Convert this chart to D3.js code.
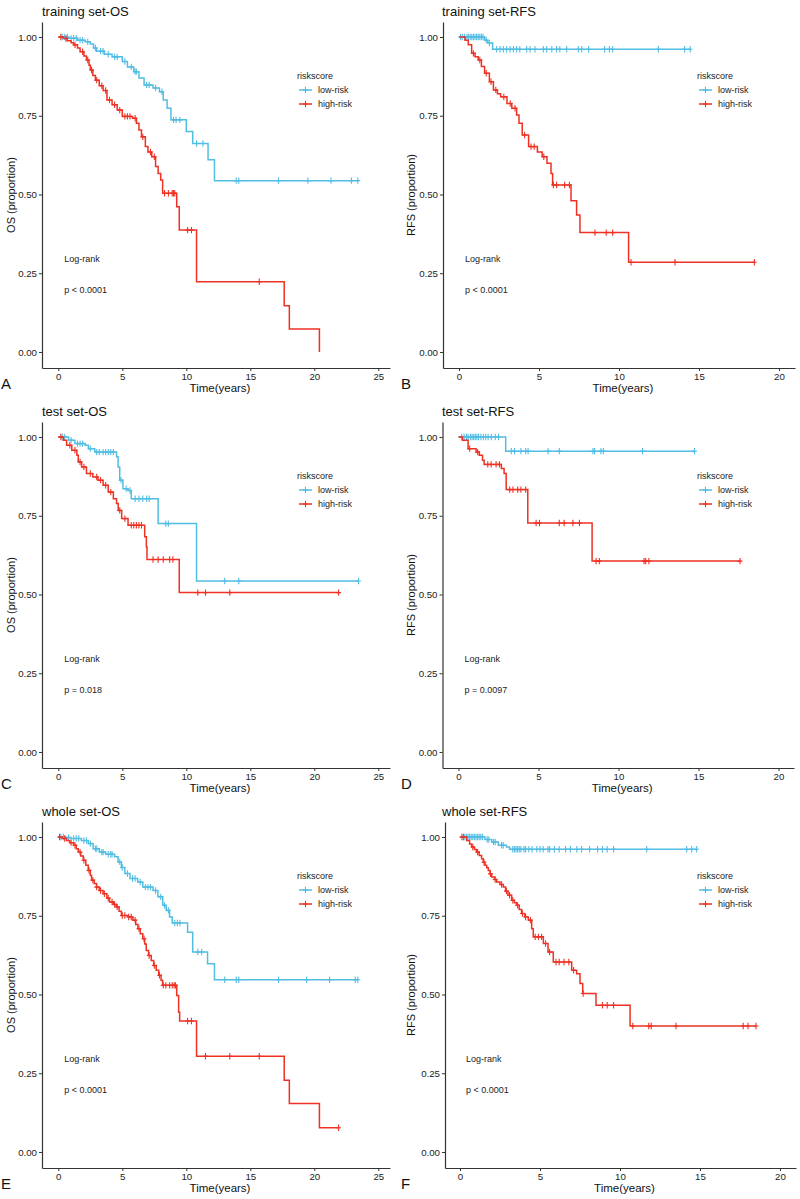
<!DOCTYPE html>
<html>
<head>
<meta charset="utf-8">
<script src="https://cdn.jsdelivr.net/npm/d3@7"></script>
<style>
  body { margin: 0; background: #fff; }
  text { font-family: "Liberation Sans", Arial, sans-serif; }
</style>
</head>
<body>
<svg id="chart" width="800" height="1199"></svg>
<script>
// ---- data: event times (years), survival after each event, censor times ----
var osTicks = [0, 5, 10, 15, 20, 25];
var rfsTicks = [0, 5, 10, 15, 20];
var yTicks = [0, 0.25, 0.5, 0.75, 1];
var groupNames = ["low-risk", "high-risk"];

// A: training set-OS
var trainOsLowTime = [0.8, 1.5, 2.1, 2.5, 2.75, 3.0, 3.6, 4.2, 5.0, 5.4, 5.9, 6.3, 6.7, 7.4, 7.9, 8.2, 8.5, 8.8, 10.0, 10.5, 11.7, 12.2];
var trainOsLowSurv = [0.996, 0.99, 0.985, 0.978, 0.965, 0.955, 0.945, 0.937, 0.922, 0.905, 0.89, 0.87, 0.848, 0.838, 0.826, 0.80, 0.774, 0.737, 0.70, 0.662, 0.61, 0.544];
var trainOsLowCens = [0.3, 0.5, 0.7, 1.0, 1.2, 1.4, 1.7, 1.9, 2.3, 2.9, 3.3, 3.5, 3.9, 4.4, 4.6, 5.2, 5.7, 6.0, 6.1, 6.9, 7.1, 7.6, 8.1, 9.0, 9.2, 9.5, 10.8, 11.3, 13.9, 14.1, 17.2, 19.5, 21.3, 22.9, 23.4];
var trainOsHighTime = [0.4, 0.7, 1.0, 1.2, 1.5, 1.7, 2.0, 2.2, 2.4, 2.5, 2.7, 2.9, 3.2, 3.5, 3.8, 4.2, 4.6, 5.0, 5.8, 6.1, 6.3, 6.5, 6.8, 7.0, 7.3, 7.6, 7.8, 8.0, 8.15, 9.25, 9.45, 10.8, 17.65, 18.05, 20.4];
var trainOsHighSurv = [0.995, 0.988, 0.982, 0.975, 0.965, 0.953, 0.94, 0.927, 0.91, 0.895, 0.878, 0.863, 0.845, 0.83, 0.80, 0.785, 0.768, 0.748, 0.742, 0.726, 0.705, 0.683, 0.652, 0.635, 0.62, 0.589, 0.567, 0.546, 0.504, 0.461, 0.387, 0.223, 0.147, 0.073, 0];
var trainOsHighCens = [0.2, 0.6, 1.3, 1.9, 2.3, 2.6, 3.0, 3.4, 3.7, 4.0, 4.4, 4.8, 5.2, 5.4, 5.6, 6.0, 6.6, 7.2, 7.5, 8.3, 8.6, 8.9, 9.0, 9.1, 10.1, 10.4, 15.7];

// B: training set-RFS
var trainRfsLowTime = [1.6, 1.8, 2.1];
var trainRfsLowSurv = [0.99, 0.981, 0.961];
var trainRfsLowCens = [0.1, 0.2, 0.35, 0.5, 0.6, 0.7, 0.8, 0.9, 1.0, 1.1, 1.2, 1.3, 1.4, 1.5, 1.7, 1.9, 2.35, 2.56, 2.77, 2.98, 3.19, 3.4, 3.6, 3.8, 4.23, 4.44, 4.75, 5.27, 5.48, 5.8, 6.1, 6.3, 6.73, 7.46, 7.67, 8.1, 9.1, 9.4, 9.6, 12.46, 14.1, 14.45];
var trainRfsHighTime = [0.38, 0.58, 0.79, 1.0, 1.2, 1.4, 1.6, 1.9, 2.15, 2.4, 2.6, 3.0, 3.3, 3.6, 3.75, 3.95, 4.35, 4.9, 5.2, 5.5, 5.75, 5.85, 7.0, 7.35, 7.56, 10.6];
var trainRfsHighSurv = [0.99, 0.975, 0.948, 0.937, 0.927, 0.906, 0.885, 0.858, 0.832, 0.82, 0.81, 0.789, 0.774, 0.752, 0.726, 0.689, 0.652, 0.635, 0.62, 0.599, 0.567, 0.53, 0.48, 0.435, 0.379, 0.285];
var trainRfsHighCens = [0.9, 1.3, 1.7, 2.0, 2.3, 2.8, 3.2, 3.5, 4.1, 4.5, 4.7, 5.3, 5.9, 6.1, 6.6, 6.9, 8.5, 9.2, 9.6, 10.75, 13.5, 18.46];

// C: test set-OS
var testOsLowTime = [0.8, 1.3, 2.1, 2.35, 2.85, 4.55, 4.67, 4.8, 5.05, 5.45, 5.7, 7.8, 10.8];
var testOsLowSurv = [0.99, 0.979, 0.974, 0.963, 0.952, 0.937, 0.905, 0.863, 0.836, 0.83, 0.804, 0.725, 0.543];
var testOsLowCens = [0.3, 0.5, 1.0, 1.5, 1.7, 1.9, 2.5, 3.0, 3.2, 3.5, 3.7, 3.9, 4.1, 4.3, 4.9, 5.3, 5.6, 6.0, 6.3, 6.6, 6.9, 7.1, 8.4, 8.6, 13.0, 14.1, 23.46];
var testOsHighTime = [0.4, 0.65, 1.05, 1.45, 1.56, 1.82, 2.2, 2.7, 3.1, 3.5, 3.9, 4.3, 4.55, 4.68, 4.95, 5.45, 6.75, 6.88, 6.93, 9.45];
var testOsHighSurv = [0.99, 0.974, 0.958, 0.942, 0.921, 0.905, 0.884, 0.873, 0.863, 0.847, 0.825, 0.804, 0.789, 0.767, 0.741, 0.72, 0.683, 0.651, 0.611, 0.506];
var testOsHighCens = [0.2, 0.9, 1.3, 1.7, 2.0, 2.5, 3.0, 3.3, 3.7, 4.1, 4.8, 5.2, 5.7, 5.9, 6.1, 6.3, 6.5, 7.4, 7.8, 8.2, 8.7, 8.95, 10.9, 11.5, 13.4, 21.9];

// D: test set-RFS
var testRfsLowTime = [2.95];
var testRfsLowSurv = [0.955];
var testRfsLowCens = [0.2, 0.35, 0.5, 0.6, 0.75, 0.85, 0.95, 1.05, 1.15, 1.25, 1.4, 1.55, 1.7, 1.85, 2.05, 2.3, 2.5, 3.3, 3.5, 3.9, 4.2, 4.35, 5.6, 6.3, 8.4, 8.5, 8.9, 9.05, 11.5, 14.75];
var testRfsHighTime = [0.25, 0.6, 1.1, 1.3, 1.5, 1.6, 2.68, 2.85, 2.98, 4.33, 8.35];
var testRfsHighSurv = [0.99, 0.963, 0.952, 0.942, 0.926, 0.913, 0.9, 0.884, 0.833, 0.727, 0.606];
var testRfsHighCens = [0.7, 1.2, 1.83, 2.04, 2.35, 2.56, 3.2, 3.4, 3.7, 3.9, 4.2, 4.85, 5.06, 6.3, 6.6, 7.15, 7.56, 8.6, 8.8, 11.6, 11.7, 11.9, 17.6];

// E: whole set-OS
var wholeOsLowTime = [0.6, 1.0, 1.8, 2.34, 2.72, 3.2, 3.7, 4.4, 4.67, 4.93, 5.2, 5.6, 6.2, 6.6, 7.4, 7.78, 8.16, 8.43, 8.69, 8.9, 10.1, 10.5, 11.66, 12.2];
var wholeOsLowSurv = [0.998, 0.995, 0.989, 0.979, 0.963, 0.952, 0.945, 0.937, 0.921, 0.903, 0.884, 0.868, 0.857, 0.841, 0.83, 0.81, 0.783, 0.767, 0.746, 0.727, 0.698, 0.635, 0.598, 0.547];
var wholeOsLowCens = [0.2, 0.4, 0.8, 1.2, 1.4, 1.6, 2.0, 2.2, 2.5, 2.9, 3.0, 3.4, 3.5, 3.9, 4.1, 4.2, 4.8, 5.0, 5.4, 5.8, 6.0, 6.4, 6.8, 7.0, 7.2, 7.6, 8.0, 8.3, 8.6, 9.1, 9.3, 9.5, 10.9, 11.2, 13.0, 13.9, 14.1, 17.2, 19.4, 21.2, 23.2, 23.4];
var wholeOsHighTime = [0.3, 0.65, 0.9, 1.2, 1.4, 1.56, 1.75, 1.95, 2.15, 2.34, 2.5, 2.6, 2.8, 2.98, 3.2, 3.5, 3.8, 4.0, 4.3, 4.54, 4.75, 4.93, 5.44, 5.83, 6.05, 6.22, 6.4, 6.6, 6.75, 6.87, 7.05, 7.26, 7.45, 7.65, 7.85, 8.03, 8.15, 9.25, 9.4, 9.48, 10.8, 17.65, 18.05, 20.4];
var wholeOsHighSurv = [0.995, 0.989, 0.982, 0.974, 0.963, 0.952, 0.94, 0.926, 0.91, 0.894, 0.878, 0.863, 0.852, 0.841, 0.83, 0.82, 0.806, 0.794, 0.786, 0.778, 0.764, 0.751, 0.746, 0.736, 0.722, 0.709, 0.693, 0.677, 0.66, 0.64, 0.624, 0.608, 0.592, 0.577, 0.561, 0.545, 0.529, 0.497, 0.444, 0.416, 0.304, 0.228, 0.154, 0.077];
var wholeOsHighCens = [0.1, 0.5, 1.0, 1.3, 1.7, 2.0, 2.4, 2.7, 3.0, 3.3, 3.6, 3.9, 4.2, 4.4, 4.6, 5.0, 5.2, 5.5, 5.7, 6.0, 6.3, 6.7, 7.1, 7.5, 7.9, 8.2, 8.4, 8.7, 8.9, 9.05, 9.15, 10.1, 10.4, 11.5, 13.4, 15.7, 21.9];

// F: whole set-RFS
var wholeRfsLowTime = [1.56, 1.98, 2.4, 2.9, 3.1];
var wholeRfsLowSurv = [0.992, 0.984, 0.974, 0.968, 0.961];
var wholeRfsLowCens = [0.1, 0.2, 0.3, 0.4, 0.5, 0.6, 0.7, 0.8, 0.9, 1.0, 1.1, 1.2, 1.3, 1.4, 1.7, 1.8, 2.1, 2.2, 2.6, 2.7, 3.3, 3.4, 3.5, 3.6, 3.7, 3.8, 4.0, 4.1, 4.3, 4.5, 4.8, 5.0, 5.2, 5.5, 5.6, 5.9, 6.2, 6.6, 6.9, 7.3, 7.6, 8.1, 8.6, 8.9, 9.2, 9.6, 11.67, 14.17, 14.48, 14.79];
var wholeRfsHighTime = [0.42, 0.6, 0.73, 0.9, 1.04, 1.2, 1.35, 1.45, 1.56, 1.67, 1.77, 1.88, 1.98, 2.15, 2.29, 2.5, 2.71, 2.85, 3.0, 3.23, 3.4, 3.54, 3.7, 3.85, 4.05, 4.27, 4.48, 4.58, 5.21, 5.5, 5.83, 6.98, 7.29, 7.5, 7.67, 8.5, 10.63];
var wholeRfsHighSurv = [0.989, 0.978, 0.968, 0.96, 0.952, 0.941, 0.931, 0.92, 0.91, 0.902, 0.894, 0.883, 0.873, 0.865, 0.857, 0.849, 0.841, 0.828, 0.815, 0.799, 0.791, 0.783, 0.77, 0.757, 0.746, 0.736, 0.709, 0.683, 0.662, 0.635, 0.603, 0.577, 0.566, 0.535, 0.503, 0.466, 0.40];
var wholeRfsHighCens = [0.2, 0.8, 1.1, 1.5, 1.9, 2.2, 2.6, 2.9, 3.1, 3.3, 3.6, 3.9, 4.1, 4.4, 4.7, 4.9, 5.1, 5.35, 5.6, 6.0, 6.2, 6.5, 6.8, 7.1, 7.7, 8.9, 9.2, 9.6, 10.8, 11.8, 11.95, 13.5, 17.7, 18.0, 18.5];

var titles = ["training set-OS", "training set-RFS", "test set-OS", "test set-RFS", "whole set-OS", "whole set-RFS"];
var pValues = ["p < 0.0001", "p < 0.0001", "p = 0.018", "p = 0.0097", "p < 0.0001", "p < 0.0001"];
var letters = ["A", "B", "C", "D", "E", "F"];

var lowColor = "#52BDE3";
var highColor = "#EE3124";
var axisColor = "#333";

function curve(time, surv, cens) {
  return { time: time, surv: surv, cens: cens };
}

var panels = [
  { low: curve(trainOsLowTime, trainOsLowSurv, trainOsLowCens), high: curve(trainOsHighTime, trainOsHighSurv, trainOsHighCens), ticks: osTicks, ylab: "OS (proportion)", ox: 0, oy: 0, axL: 42, zero: 58.3, ppy: 12.8, axR: 390 },
  { low: curve(trainRfsLowTime, trainRfsLowSurv, trainRfsLowCens), high: curve(trainRfsHighTime, trainRfsHighSurv, trainRfsHighCens), ticks: rfsTicks, ylab: "RFS (proportion)", ox: 400, oy: 0, axL: 43, zero: 59, ppy: 16, axR: 395 },
  { low: curve(testOsLowTime, testOsLowSurv, testOsLowCens), high: curve(testOsHighTime, testOsHighSurv, testOsHighCens), ticks: osTicks, ylab: "OS (proportion)", ox: 0, oy: 400, axL: 42, zero: 58.3, ppy: 12.8, axR: 390 },
  { low: curve(testRfsLowTime, testRfsLowSurv, testRfsLowCens), high: curve(testRfsHighTime, testRfsHighSurv, testRfsHighCens), ticks: rfsTicks, ylab: "RFS (proportion)", ox: 400, oy: 400, axL: 42.5, zero: 58.5, ppy: 16, axR: 394 },
  { low: curve(wholeOsLowTime, wholeOsLowSurv, wholeOsLowCens), high: curve(wholeOsHighTime, wholeOsHighSurv, wholeOsHighCens), ticks: osTicks, ylab: "OS (proportion)", ox: 0, oy: 800, axL: 42, zero: 58.3, ppy: 12.8, axR: 390 },
  { low: curve(wholeRfsLowTime, wholeRfsLowSurv, wholeRfsLowCens), high: curve(wholeRfsHighTime, wholeRfsHighSurv, wholeRfsHighCens), ticks: rfsTicks, ylab: "RFS (proportion)", ox: 400, oy: 800, axL: 45, zero: 60, ppy: 16, axR: 396 }
];

var svg = d3.select("#chart");

function survAt(c, t) {
  var s = 1;
  for (var i = 0; i < c.time.length; i++) {
    if (c.time[i] <= t) s = c.surv[i];
  }
  return s;
}

function plusPath(cx, cy, h, w) {
  return "M" + (cx - w) + "," + cy + "H" + (cx + w) + "M" + cx + "," + (cy - h) + "V" + (cy + h);
}

panels.forEach(function (p, idx) {
  var g = svg.append("g").attr("transform", "translate(" + p.ox + "," + p.oy + ")");

  var x = d3.scaleLinear()
    .domain([(p.axL - p.zero) / p.ppy, (p.axR - p.zero) / p.ppy])
    .range([p.axL, p.axR]);
  var y = d3.scaleLinear().domain([-0.0508, 1.0476]).range([368, 22]);

  // axes
  var xAxis = g.append("g")
    .attr("transform", "translate(0,368)")
    .call(d3.axisBottom(x).tickValues(p.ticks).tickSize(3).tickPadding(2).tickSizeOuter(0));
  var yAxis = g.append("g")
    .attr("transform", "translate(" + p.axL + ",0)")
    .call(d3.axisLeft(y).tickValues(yTicks).tickFormat(d3.format(".2f")).tickSize(3).tickPadding(2).tickSizeOuter(0));
  [xAxis, yAxis].forEach(function (a) {
    a.select(".domain").attr("stroke", axisColor).attr("stroke-width", 1.2);
    a.selectAll(".tick line").attr("stroke", axisColor).attr("stroke-width", 1);
    a.selectAll(".tick text")
      .attr("fill", "#222")
      .attr("font-size", "9.7px")
      .attr("font-family", "Liberation Sans, Arial, sans-serif");
  });

  // curves
  var line = d3.line()
    .x(function (d) { return x(d[0]); })
    .y(function (d) { return y(d[1]); })
    .curve(d3.curveStepAfter);

  [["low", lowColor], ["high", highColor]].forEach(function (k) {
    var c = p[k[0]];
    var pts = [[0, 1]];
    c.time.forEach(function (t, i) { pts.push([t, c.surv[i]]); });
    var tEnd = Math.max(d3.max(c.time), d3.max(c.cens));
    pts.push([tEnd, c.surv[c.surv.length - 1]]);
    g.append("path")
      .attr("d", line(pts))
      .attr("fill", "none")
      .attr("stroke", k[1])
      .attr("stroke-width", 1.5);
    g.append("g")
      .selectAll("path")
      .data(c.cens)
      .enter()
      .append("path")
      .attr("d", function (t) { return plusPath(x(t), y(survAt(c, t)), 3.2, 2.4); })
      .attr("stroke", k[1])
      .attr("stroke-width", 1.1)
      .attr("fill", "none");
  });

  // title, axis titles, panel letter
  g.append("text")
    .attr("x", 42)
    .attr("y", 15.5)
    .attr("font-size", "13px")
    .attr("fill", "#111")
    .text(titles[idx]);

  g.append("text")
    .attr("x", (p.axL + p.axR) / 2 + 4)
    .attr("y", 392)
    .attr("text-anchor", "middle")
    .attr("font-size", "11.5px")
    .attr("fill", "#111")
    .text("Time(years)");

  g.append("text")
    .attr("transform", "translate(15," + 195 + ") rotate(-90)")
    .attr("text-anchor", "middle")
    .attr("font-size", "11px")
    .attr("fill", "#111")
    .text(p.ylab);

  g.append("text")
    .attr("x", 1)
    .attr("y", 389)
    .attr("font-size", "15px")
    .attr("fill", "#111")
    .text(letters[idx]);

  // log-rank annotation
  g.append("text")
    .attr("x", p.zero + 6)
    .attr("y", 262)
    .attr("font-size", "9px")
    .attr("fill", "#222")
    .text("Log-rank");
  g.append("text")
    .attr("x", p.zero + 6)
    .attr("y", 293)
    .attr("font-size", "9px")
    .attr("fill", "#222")
    .text(pValues[idx]);

  // legend
  var legend = g.append("g").attr("transform", "translate(297,0)");
  legend.append("text")
    .attr("x", 0)
    .attr("y", 79)
    .attr("font-size", "9px")
    .attr("fill", "#222")
    .text("riskscore");
  var items = legend.selectAll("g.item")
    .data(groupNames)
    .enter()
    .append("g")
    .attr("class", "item")
    .attr("transform", function (d, i) { return "translate(0," + (90 + i * 14) + ")"; });
  items.append("line")
    .attr("x1", 2).attr("x2", 15).attr("y1", 0).attr("y2", 0)
    .attr("stroke", function (d, i) { return i === 0 ? lowColor : highColor; })
    .attr("stroke-width", 1.5);
  items.append("path")
    .attr("d", plusPath(8.5, 0, 3.2, 2.4))
    .attr("stroke", function (d, i) { return i === 0 ? lowColor : highColor; })
    .attr("stroke-width", 1.1);
  items.append("text")
    .attr("x", 21)
    .attr("y", 3)
    .attr("font-size", "9px")
    .attr("fill", "#222")
    .text(function (d) { return d; });
});
</script>
</body>
</html>
